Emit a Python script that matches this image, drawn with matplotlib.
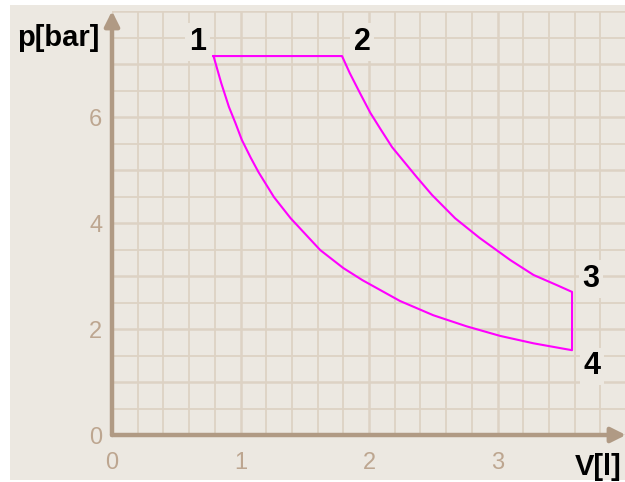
import matplotlib
matplotlib.use('Agg')
import matplotlib.pyplot as plt
from matplotlib.patches import Rectangle

# Zustandspunkte des Kreisprozesses (V in l, p in bar)
state_names = ['1', '2', '3', '4']
state_V = [0.79, 1.79, 3.58, 3.58]
state_p = [7.15, 7.15, 2.70, 1.60]

# Kurve 2 -> 3 (obere Kurve)
upper_V = [1.79, 1.85, 1.93, 2.01, 2.09, 2.18, 2.37, 2.49, 2.67, 2.86, 3.10, 3.28, 3.46, 3.58]
upper_p = [7.15, 6.83, 6.45, 6.08, 5.77, 5.43, 4.87, 4.53, 4.09, 3.72, 3.30, 3.02, 2.83, 2.70]

lower_V = [0.79, 0.85, 0.91, 0.96, 1.01, 1.08, 1.14, 1.26, 1.39, 1.62, 1.80, 1.95,
           2.24, 2.50, 2.76, 3.02, 3.28, 3.51, 3.58]
lower_p = [7.15, 6.64, 6.19, 5.89, 5.57, 5.23, 4.96, 4.49, 4.09, 3.49, 3.15, 2.92,
           2.53, 2.26, 2.05, 1.87, 1.73, 1.63, 1.60]

x_ticks = [0, 1, 2, 3, 4]
x_ticklabels = ['0', '1', '2', '3', '']
y_ticks = [0, 1, 2, 3, 4, 5, 6, 7, 8]
y_ticklabels = ['0', '', '2', '', '4', '', '6', '', '']

bg = '#ece8e1'
axis_col = '#b09a84'
tick_col = '#bda690'
grid_col = '#ddd2c4'
fonts = ['Liberation Sans Narrow', 'Liberation Sans', 'DejaVu Sans']

fig = plt.figure(figsize=(6.25, 4.82), dpi=100)
fig.patch.set_facecolor('white')
fig.patches.append(Rectangle((10 / 625, 2 / 482), 1, 1 - 7 / 482,
                             transform=fig.transFigure, fc=bg, ec='none', zorder=-10))

ax = fig.add_axes([112 / 625, 47 / 482, 514 / 625, 424 / 482])
ax.set_facecolor(bg)
ax.set_xlim(0, 4)
ax.set_ylim(0, 8)
for s in ax.spines.values():
    s.set_visible(False)

ax.set_xticks(x_ticks)
ax.set_xticklabels(x_ticklabels)
ax.set_yticks(y_ticks)
ax.set_yticklabels(y_ticklabels)
ax.set_xticks([i * 0.2 for i in range(21)], minor=True)
ax.set_yticks([i * 0.5 for i in range(17)], minor=True)
ax.tick_params(which='both', length=0)
ax.tick_params(axis='x', pad=12, labelsize=17, labelcolor=tick_col)
ax.tick_params(axis='y', pad=7, labelsize=17, labelcolor=tick_col)
for lab in ax.get_xticklabels() + ax.get_yticklabels():
    lab.set_family(fonts)

ax.grid(which='major', color=grid_col, lw=1.8)
ax.grid(which='minor', color=grid_col, lw=1.3)
ax.set_axisbelow(True)

# Achsen mit Pfeilen
arrow = dict(arrowstyle='-|>', mutation_scale=22, lw=3.2, color=axis_col,
             shrinkA=0, shrinkB=0)
ax.annotate('', xy=(0, 8), xytext=(0, 0), arrowprops=arrow, annotation_clip=False)
ax.annotate('', xy=(4, 0), xytext=(0, 0), arrowprops=arrow, annotation_clip=False)

# Kreisprozess 1 -> 2 -> 3 -> 4 -> 1
cyc_V = [state_V[0]] + upper_V + [state_V[3]] + lower_V[::-1]
cyc_p = [state_p[0]] + upper_p + [state_p[3]] + lower_p[::-1]
ax.plot(cyc_V, cyc_p, color='#ff00ff', lw=1.5, zorder=3, clip_on=False)

offsets = [(-16, 14), (20, 14), (19, 13), (20, -16)]
for name, v, p, off in zip(state_names, state_V, state_p, offsets):
    ax.annotate(name, xy=(v, p), xytext=off, textcoords='offset pixels',
                ha='center', va='center', fontsize=22, fontweight='bold',
                family=fonts, color='black',
                bbox=dict(boxstyle='square,pad=0.12', fc=bg, ec='none'))

ax.text(-0.025, 0.936, 'p[bar]', transform=ax.transAxes, ha='right', va='center',
        fontsize=21, fontweight='bold', family=fonts)
ax.text(0.992, -0.075, 'V[l]', transform=ax.transAxes, ha='right', va='center',
        fontsize=21, fontweight='bold', family=fonts)

plt.savefig('out.png', dpi=100, facecolor=fig.get_facecolor())
